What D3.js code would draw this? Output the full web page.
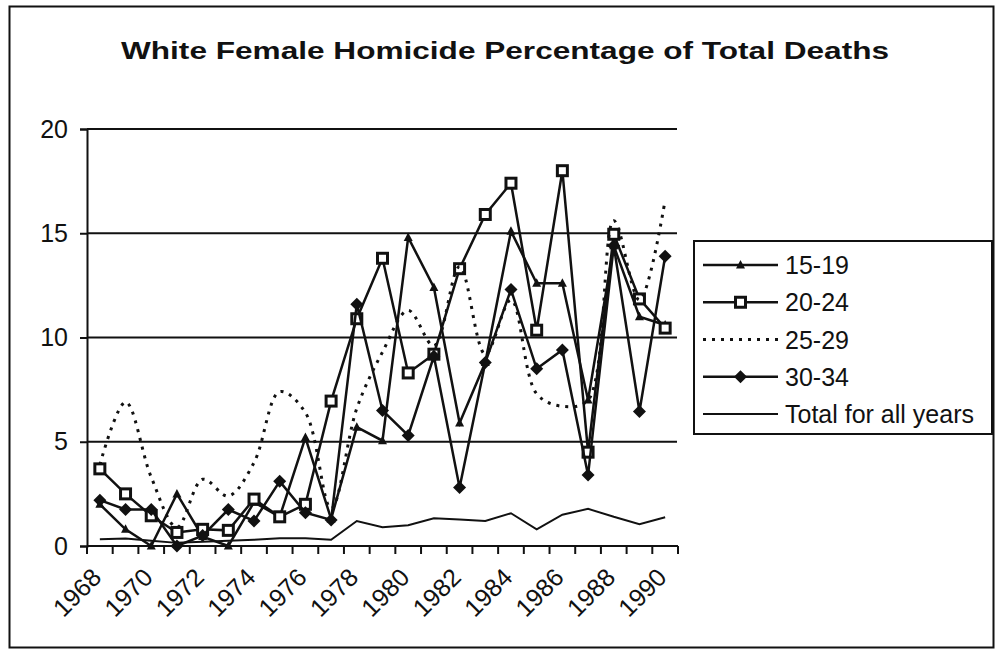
<!DOCTYPE html>
<html>
<head>
<meta charset="utf-8">
<script src="https://cdn.jsdelivr.net/npm/d3@7"></script>
<style>
  body { margin: 0; background: #fff; }
  svg text { font-family: Arial, "Liberation Sans", sans-serif; fill: #111; }
</style>
</head>
<body>
<svg id="chart" width="995" height="654"></svg>
<script>
// --- Données
const years = d3.range(1968, 1991);
const tickYears = d3.range(1968, 1991, 2);
const yTicks = [0, 5, 10, 15, 20];

const age1519 = [2.0, 0.8, 0.0, 2.5, 0.45, 0.0, 2.1, 1.4, 5.2, 1.3, 5.7, 5.05, 14.8, 12.4, 5.9, 8.8, 15.1, 12.6, 12.6, 7.0, 14.4, 11.0, 10.6];
const age2024 = [3.7, 2.5, 1.45, 0.65, 0.8, 0.75, 2.25, 1.4, 2.0, 6.95, 10.9, 13.8, 8.3, 9.2, 13.3, 15.9, 17.4, 10.35, 18.0, 4.5, 14.95, 11.85, 10.45];
const age2529 = [3.9, 6.9, 3.3, 0.9, 3.2, 2.4, 4.0, 7.4, 6.4, 1.8, 6.6, 9.3, 11.3, 9.6, 13.4, 9.2, 11.8, 7.3, 6.7, 7.0, 15.6, 11.8, 16.6];
const age3034 = [2.2, 1.75, 1.75, 0.0, 0.5, 1.75, 1.2, 3.1, 1.6, 1.25, 11.6, 6.5, 5.3, 9.1, 2.8, 8.8, 12.3, 8.5, 9.4, 3.4, 14.4, 6.45, 13.9];
const total = [0.32, 0.36, 0.25, 0.15, 0.2, 0.25, 0.3, 0.37, 0.37, 0.3, 1.2, 0.9, 1.0, 1.33, 1.27, 1.2, 1.57, 0.8, 1.5, 1.78, 1.4, 1.05, 1.38];

const seriesNames = ["15-19", "20-24", "25-29", "30-34", "Total for all years"];

const series = [
  { name: seriesNames[0], values: age1519, marker: "triangle", dash: null, width: 2.5, curve: d3.curveLinear },
  { name: seriesNames[1], values: age2024, marker: "square", dash: null, width: 2.5, curve: d3.curveLinear },
  { name: seriesNames[2], values: age2529, marker: null, dash: "3,6", width: 3, curve: d3.curveCatmullRom.alpha(0.5) },
  { name: seriesNames[3], values: age3034, marker: "diamond", dash: null, width: 2.5, curve: d3.curveLinear },
  { name: seriesNames[4], values: total, marker: null, dash: null, width: 2, curve: d3.curveLinear }
];

const svg = d3.select("#chart");

// --- Cadre extérieur
svg.append("rect")
  .attr("x", 9.5).attr("y", 6.5)
  .attr("width", 984).attr("height", 641)
  .attr("fill", "none").attr("stroke", "#111").attr("stroke-width", 2);

// --- Titre
svg.append("text")
  .attr("x", 505).attr("y", 59)
  .attr("text-anchor", "middle")
  .attr("font-size", 24).attr("font-weight", "bold")
  .attr("textLength", 768).attr("lengthAdjust", "spacingAndGlyphs")
  .text("White Female Homicide Percentage of Total Deaths");

// --- Échelles
const x = d3.scaleBand().domain(years).range([87, 678]);
const y = d3.scaleLinear().domain([0, 20]).range([546, 129]);
const cx = (i) => x(years[i]) + x.bandwidth() / 2;

// --- Grille horizontale
svg.append("g")
  .selectAll("line")
  .data(yTicks.filter(d => d > 0))
  .join("line")
  .attr("x1", 87).attr("x2", 677)
  .attr("y1", d => y(d)).attr("y2", d => y(d))
  .attr("stroke", "#111").attr("stroke-width", 2);

// --- Axe Y
const yAxis = svg.append("g")
  .attr("transform", "translate(87,0)")
  .call(d3.axisLeft(y).tickValues(yTicks).tickSize(7).tickPadding(12).tickFormat(d3.format("d")));
yAxis.select(".domain").attr("stroke", "#111").attr("stroke-width", 2);
yAxis.selectAll(".tick line").attr("stroke", "#111").attr("stroke-width", 2);
yAxis.selectAll(".tick text")
  .attr("font-size", 25)
  .attr("font-family", "Arial, 'Liberation Sans', sans-serif")
  .attr("fill", "#111");

// --- Axe X (graduations entre les catégories)
const xAxisG = svg.append("g");
xAxisG.append("line")
  .attr("x1", 87).attr("x2", 678)
  .attr("y1", y(0)).attr("y2", y(0))
  .attr("stroke", "#111").attr("stroke-width", 2);
xAxisG.selectAll("line.tick")
  .data(years.concat([null]))
  .join("line")
  .attr("class", "tick")
  .attr("x1", (d, i) => i < years.length ? x(d) : x.range()[1])
  .attr("x2", (d, i) => i < years.length ? x(d) : x.range()[1])
  .attr("y1", y(0)).attr("y2", y(0) + 8)
  .attr("stroke", "#111").attr("stroke-width", 2);
xAxisG.selectAll("text")
  .data(tickYears)
  .join("text")
  .attr("transform", d => `translate(${x(d) + x.bandwidth() / 2 + 3},${y(0) + 33}) rotate(-45)`)
  .attr("text-anchor", "end")
  .attr("font-size", 25)
  .text(d => d);

// --- Marqueurs
function drawMarker(g, type, px, py) {
  if (type === "square") {
    g.append("rect")
      .attr("x", px - 5).attr("y", py - 5)
      .attr("width", 10).attr("height", 10)
      .attr("fill", "#fff").attr("stroke", "#111").attr("stroke-width", 3);
  } else if (type === "diamond") {
    g.append("path")
      .attr("d", `M${px},${py - 6.5}L${px + 6.5},${py}L${px},${py + 6.5}L${px - 6.5},${py}Z`)
      .attr("fill", "#111");
  } else if (type === "triangle") {
    g.append("path")
      .attr("d", `M${px},${py - 5}L${px + 4.5},${py + 3.5}L${px - 4.5},${py + 3.5}Z`)
      .attr("fill", "#111");
  }
}

// --- Séries
const plot = svg.append("g");
series.forEach(s => {
  const line = d3.line()
    .x((d, i) => cx(i))
    .y(d => y(d))
    .curve(s.curve);
  plot.append("path")
    .datum(s.values)
    .attr("d", line)
    .attr("fill", "none")
    .attr("stroke", "#111")
    .attr("stroke-width", s.width)
    .attr("stroke-linejoin", "miter")
    .attr("stroke-dasharray", s.dash);
  if (s.marker) {
    const mg = plot.append("g");
    s.values.forEach((v, i) => drawMarker(mg, s.marker, cx(i), y(v)));
  }
});

// --- Légende
const legend = svg.append("g");
legend.append("rect")
  .attr("x", 694).attr("y", 241)
  .attr("width", 298).attr("height", 193)
  .attr("fill", "#fff").attr("stroke", "#111").attr("stroke-width", 2);

const rowY = d3.scalePoint().domain(seriesNames).range([265, 414]);
series.forEach(s => {
  const ly = rowY(s.name);
  legend.append("line")
    .attr("x1", 703).attr("x2", 778)
    .attr("y1", ly).attr("y2", ly)
    .attr("stroke", "#111")
    .attr("stroke-width", s.width)
    .attr("stroke-dasharray", s.dash);
  if (s.marker) drawMarker(legend, s.marker, 740.5, ly);
  legend.append("text")
    .attr("x", 785).attr("y", ly + 9)
    .attr("font-size", 25)
    .text(s.name);
});
</script>
</body>
</html>
